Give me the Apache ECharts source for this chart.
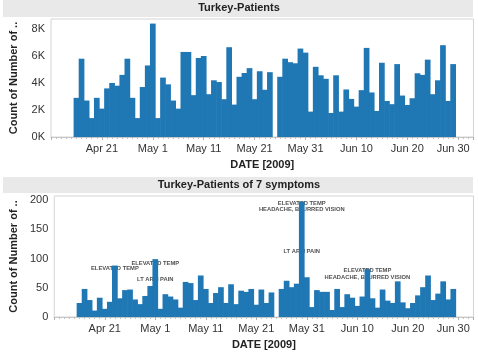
<!DOCTYPE html>
<html>
<head>
<meta charset="utf-8">
<script src="https://cdn.jsdelivr.net/npm/echarts@6/dist/echarts.min.js"></script>
<style>
  html, body { margin: 0; padding: 0; background: #fff; }
  #main { width: 478px; height: 354px; }
</style>
</head>
<body>
<div id="main"></div>
<script>
// day numbers count from Apr 1 2009 (= 0); data runs Apr 16 .. Jun 29, no data on May 25
const firstDay = 15;
const tickDays = [20, 30, 40, 50, 60, 70, 80, 90];
const monthNames = ['Jan', 'Feb', 'Mar', 'Apr', 'May', 'Jun', 'Jul'];

// Turkey-Patients (count per day)
const patients = [
  2900, 5800, 2700, 1400, 2900, 2100, 3600, 4000, 3800, 4600, 5800, 2900, 1400, 3700, 5300,
  8400, 1400, 4400, 3900, 2700, 2100, 6300, 6300, 3100, 5850, 6000, 3170, 4200, 4070, 2800,
  6650, 2400, 4460, 4740, 5100, 2800, 4870, 3500, 4800,
  null,
  4460, 5800, 5540, 5460, 6550, 6250, 1880, 5200, 4570, 4310, 1780, 4570, 1880, 3520,
  2820, 2250, 3470, 6600, 3300, 1930, 5500, 2670, 2430, 5400, 3070, 2370, 2870, 4720, 4600,
  5730, 3170, 4200, 6800, 2670, 5400
];

// Turkey-Patients of 7 symptoms
const symptoms = [
  24, 48, 29, 11, 33, 14, 26, 88, 32, 46, 47, 30, 22, 36, 53,
  99, 14, 39, 35, 30, 16, 60, 58, 29, 71, 48, 24, 41, 51, 24,
  56, 22, 45, 43, 48, 21, 47, 24, 42,
  null,
  48, 62, 51, 57, 197, 68, 17, 46, 43, 43, 12, 48, 17, 39,
  33, 19, 35, 82, 32, 16, 47, 28, 24, 61, 25, 15, 24, 37, 51,
  71, 29, 40, 61, 30, 48
];

// symptom notes written on the second chart
const noteDays = [22, 30, 30, 59, 59, 59, 72, 72];
const noteValues = [84, 91, 65, 195, 184, 112, 79, 67];
const noteTexts = ['ELEVATED TEMP', 'ELEVATED TEMP', 'LT ARM PAIN', 'ELEVATED TEMP',
  'HEADACHE, BLURRED VISION', 'LT ARM PAIN', 'ELEVATED TEMP', 'HEADACHE, BLURRED VISION'];

function dayLabel(d) {
  if (tickDays.indexOf(d) < 0) return '';
  const dt = new Date(2009, 3, 1 + d);
  const txt = monthNames[dt.getMonth()] + ' ' + dt.getDate();
  // last label is pushed left to stay inside the pane
  return d === 90 ? '{edge|' + txt + '}' : txt;
}

const chart = echarts.init(document.getElementById('main'), null, { renderer: 'canvas' });

const font = 'Arial, "Liberation Sans", sans-serif';
const barColor = '#1f77b4';

function xAxisOpt(gridIndex) {
  return {
    type: 'value',
    gridIndex: gridIndex,
    min: 10,
    max: 93,
    interval: 10,
    name: 'DATE [2009]',
    nameLocation: 'middle',
    nameGap: 22,
    nameTextStyle: { fontFamily: font, fontSize: 11, fontWeight: 'bold', color: '#222' },
    axisLine: { show: true, lineStyle: { color: '#c8c8c8' } },
    axisTick: { show: true, length: 3, lineStyle: { color: '#b0b0b0' } },
    minorTick: { show: true, splitNumber: 10, length: 2, lineStyle: { color: '#c0c0c0' } },
    splitLine: { show: false },
    axisLabel: {
      fontFamily: font, fontSize: 11, color: '#333', margin: 6,
      formatter: dayLabel,
      rich: {
        edge: { fontFamily: font, fontSize: 11, color: '#333', padding: [0, 10, 0, 0] }
      }
    }
  };
}

function yAxisOpt(gridIndex, max, interval, fmt) {
  return {
    type: 'value',
    gridIndex: gridIndex,
    min: 0,
    max: max,
    interval: interval,
    name: 'Count of Number of ..',
    nameLocation: 'middle',
    nameGap: 32,
    nameTextStyle: { fontFamily: font, fontSize: 11, fontWeight: 'bold', color: '#222' },
    axisLine: { show: false },
    axisTick: { show: false },
    splitLine: { show: false },
    axisLabel: {
      fontFamily: font, fontSize: 11, color: '#333', margin: 6,
      formatter: function (v) { return v % interval === 0 ? fmt(v) : ''; }
    }
  };
}

function pairs(values) {
  return values.map(function (v, i) { return [firstDay + i, v]; });
}

function barSeries(idx, values) {
  return {
    type: 'bar', xAxisIndex: idx, yAxisIndex: idx,
    data: pairs(values),
    barWidth: 5.7,
    itemStyle: { color: barColor },
    z: 2
  };
}

const option = {
  animation: false,
  backgroundColor: '#fff',
  graphic: [
    { type: 'rect', left: 3, top: 0, shape: { width: 470, height: 17 }, style: { fill: '#e9e9e9' } },
    { type: 'rect', left: 3, top: 177, shape: { width: 470, height: 16 }, style: { fill: '#e9e9e9' } }
  ],
  title: [
    { text: 'Turkey-Patients', left: 'center', top: 2, padding: 0,
      textStyle: { fontFamily: font, fontSize: 11, fontWeight: 'bold', color: '#222' } },
    { text: 'Turkey-Patients of 7 symptoms', left: 'center', top: 179, padding: 0,
      textStyle: { fontFamily: font, fontSize: 11, fontWeight: 'bold', color: '#222' } }
  ],
  grid: [
    { left: 47.5, right: 4.5, top: 19, height: 118, show: true, borderColor: '#d4d4d4', borderWidth: 1 },
    { left: 47.5, right: 4.5, top: 196, height: 121, show: true, borderColor: '#d4d4d4', borderWidth: 1 }
  ],
  xAxis: [xAxisOpt(0), xAxisOpt(1)],
  yAxis: [
    yAxisOpt(0, 8740, 2000, function (v) { return (v / 1000) + 'K'; }),
    yAxisOpt(1, 207, 50, function (v) { return String(v); })
  ],
  series: [
    barSeries(0, patients),
    barSeries(1, symptoms),
    {
      type: 'scatter', xAxisIndex: 1, yAxisIndex: 1,
      symbolSize: 0,
      z: 1,
      data: noteDays.map(function (d, i) { return [d, noteValues[i], noteTexts[i]]; }),
      label: {
        show: true, position: 'inside',
        fontFamily: font, fontSize: 5.8, fontWeight: 'bold', color: '#222',
        formatter: function (p) { return p.data[2]; }
      }
    }
  ]
};

chart.setOption(option);
</script>
</body>
</html>
